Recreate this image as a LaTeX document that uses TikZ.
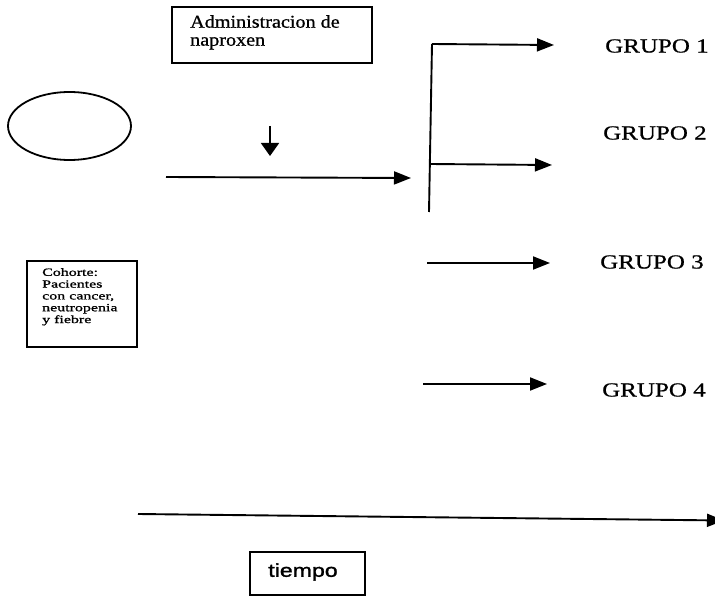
\documentclass[tikz,border=0pt]{standalone}
\usepackage{fontspec}
\setmainfont{Liberation Serif}
\newfontfamily\grpfont[FakeStretch=1.25,FakeBold=0.8]{Liberation Serif}
\newfontfamily\admfont[FakeStretch=1.12,FakeBold=0.8]{Liberation Serif}
\newfontfamily\cohfont[FakeStretch=1.45,FakeBold=1.2]{Liberation Serif}
\newfontfamily\tiefont[FakeStretch=1.25,FakeBold=1.5]{Liberation Sans}
\usetikzlibrary{arrows.meta,shapes.geometric}
\tikzset{
  ln/.style={line width=1.9pt},
  arr/.style={ln,-{Triangle[length=17pt,width=13pt]}},
  boxed/.style={draw,line width=1.5pt,inner sep=0pt},
  grp/.style={anchor=west,inner sep=0pt,font=\grpfont\fontsize{20}{22}\selectfont},
}
\begin{document}
\begin{tikzpicture}[x=1pt,y=-1pt]
\useasboundingbox (0,0) rectangle (715,596);
\clip (0,0) rectangle (715,596);
% boxes
\node[boxed,minimum width=200pt,minimum height=56pt] (adm) at (272,35) {};
\node[anchor=north west,inner sep=0pt,align=left,font=\admfont\fontsize{18}{18}\selectfont] (admt) at (190,15) {Administracion de\\naproxen};
\node[draw,line width=1.8pt,ellipse,minimum width=123pt,minimum height=68pt,inner sep=0pt] (ell) at (69.5,126) {};
\node[boxed,minimum width=110pt,minimum height=86pt] (coh) at (82,304) {};
\node[anchor=north west,inner sep=0pt,align=left,font=\cohfont\fontsize{11}{11.8}\selectfont] (coht) at (42,268) {Cohorte:\\Pacientes\\con cancer,\\neutropenia\\y fiebre};
\node[boxed,minimum width=115pt,minimum height=43pt] (tie) at (307.5,573.5) {};
\node[inner sep=0pt,font=\tiefont\fontsize{18.5}{20}\selectfont] (tiet) at (303,572) {tiempo};
% coordinates
\coordinate (d1) at (270,126);
\coordinate (d2) at (270,156);
\coordinate (h1) at (166,177);
\coordinate (h2) at (411,178);
\coordinate (vtop) at (432,44);
\coordinate (vbot) at (429,212);
\coordinate (g1e) at (554,45);
\coordinate (g2s) at (430,164);
\coordinate (g2e) at (552,165);
\coordinate (g3s) at (427,263);
\coordinate (g3e) at (550,263);
\coordinate (g4s) at (423,384);
\coordinate (g4e) at (547,384);
\coordinate (t1) at (138,514);
\coordinate (t2) at (724,520.5);
% connectors
\draw[ln,-{Triangle[length=13pt,width=18pt]}] (d1) -- (d2);
\draw[arr] (h1) -- (h2);
\draw[ln] (vbot) -- (vtop);
\draw[arr] (vtop) -- (g1e);
\draw[arr] (g2s) -- (g2e);
\draw[arr] (g3s) -- (g3e);
\draw[arr] (g4s) -- (g4e);
\draw[arr] (t1) -- (t2);
% labels
\node[grp] (G1) at (605,46) {GRUPO 1};
\node[grp] (G2) at (603,133) {GRUPO 2};
\node[grp] (G3) at (600,262) {GRUPO 3};
\node[grp] (G4) at (602,390) {GRUPO 4};
\end{tikzpicture}
\end{document}
